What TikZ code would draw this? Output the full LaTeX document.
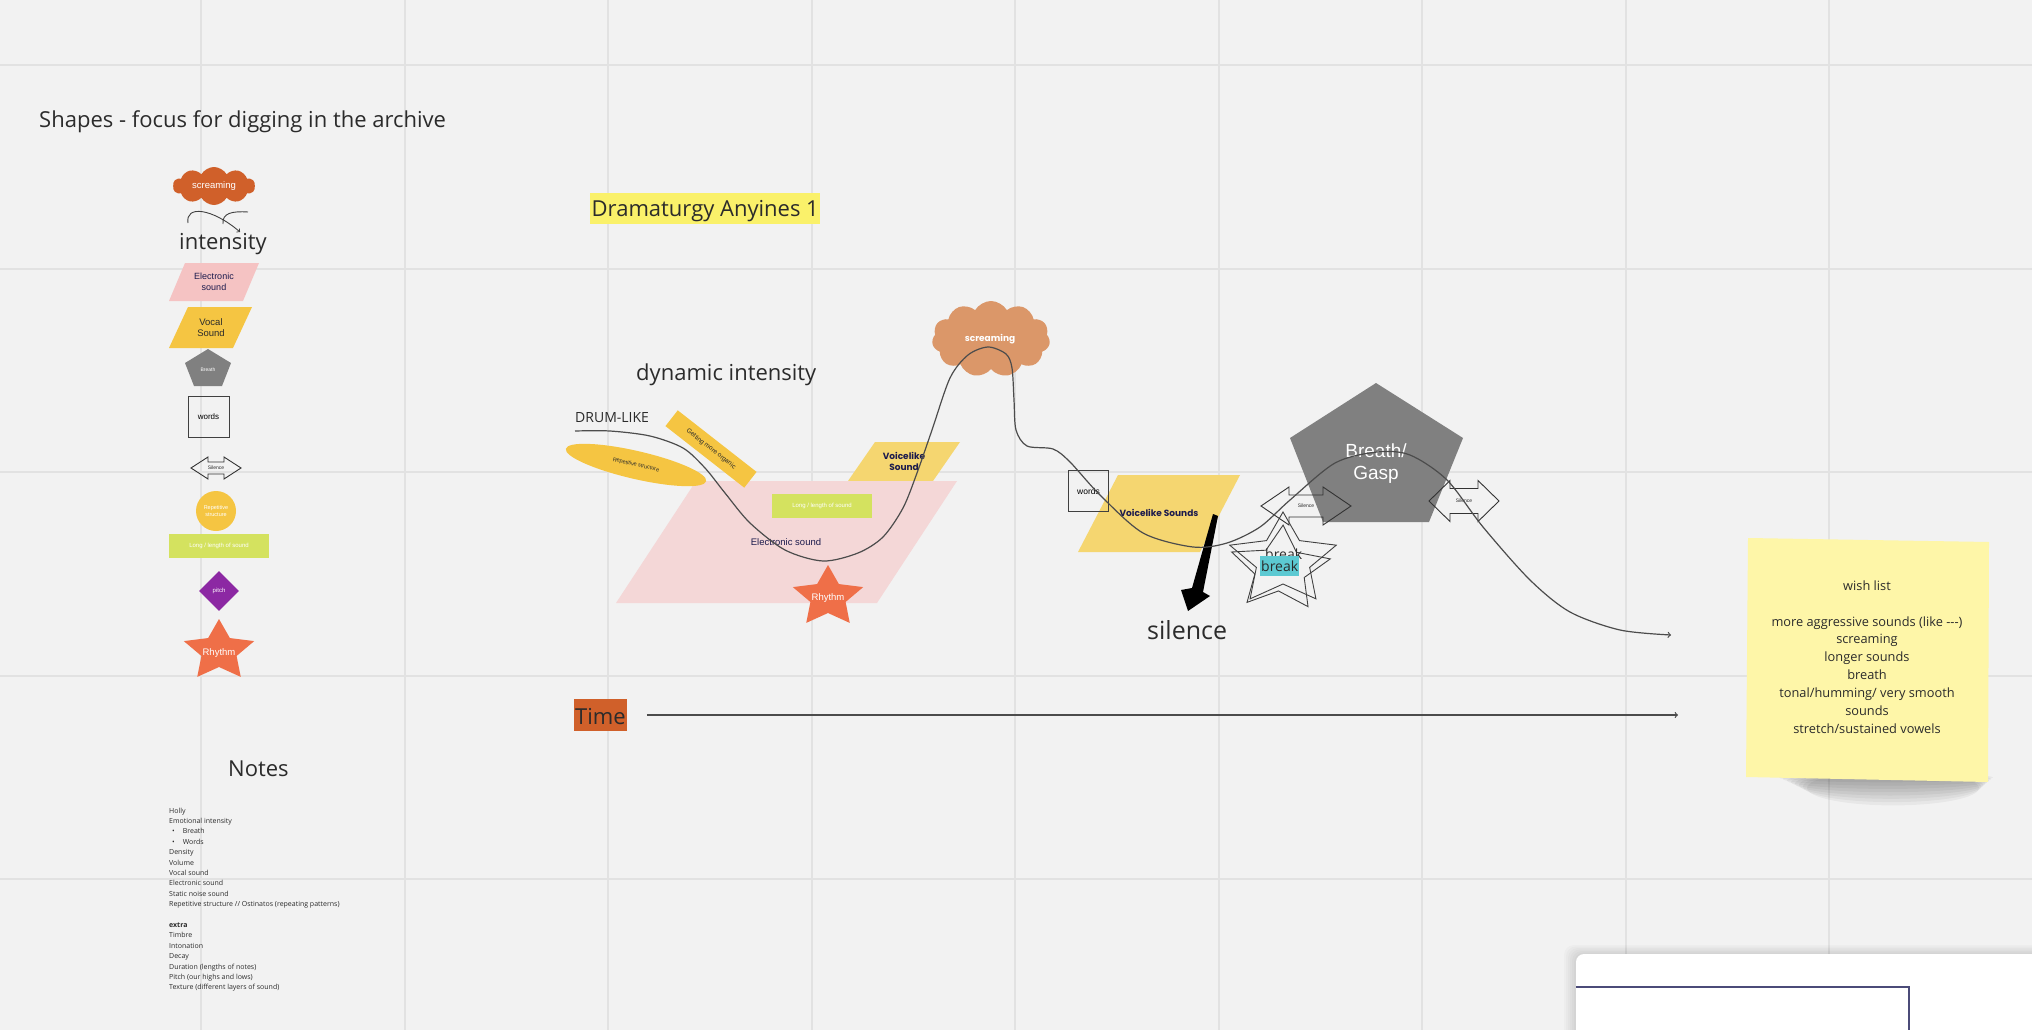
\documentclass[tikz,border=0pt]{standalone}
\usepackage{fontspec}
\setmainfont{Open Sans}
\newfontfamily\arialfont{Liberation Sans}
\newfontfamily\popfont{Poppins}
\usetikzlibrary{calc, shapes.geometric, shapes.symbols, arrows, positioning, fit}

\definecolor{boardbg}{HTML}{F2F2F2}
\definecolor{gridline}{HTML}{E2E2E2}
\definecolor{burnt}{HTML}{D0602A}
\definecolor{clay}{HTML}{DB9769}
\definecolor{blush}{HTML}{F5C3C3}
\definecolor{palepink}{HTML}{F4D7D7}
\definecolor{mustard}{HTML}{F5C542}
\definecolor{butter}{HTML}{F5D670}
\definecolor{lime}{HTML}{D4E25F}
\definecolor{plum}{HTML}{8C28A3}
\definecolor{coral}{HTML}{EF6F48}
\definecolor{slate}{HTML}{808080}
\definecolor{aqua}{HTML}{5CC9D2}
\definecolor{lemon}{HTML}{FAF16A}
\definecolor{sticky}{HTML}{FEF6A8}
\definecolor{navy}{HTML}{1C1B4D}
\definecolor{ink}{HTML}{2B2B2B}
\definecolor{frame}{HTML}{4B4B78}

\newcommand{\fsz}[2]{\fontsize{#1}{#2}\selectfont}
% cx, cy, half length, head length, shaft half, head half, text, name
\newcommand{\dblarrow}[8]{%
    \draw[black!80, line width=0.9] ({#1-#3},#2) -- ({#1-#3+#4},{#2-#6}) -- ({#1-#3+#4},{#2-#5})
        -- ({#1+#3-#4},{#2-#5}) -- ({#1+#3-#4},{#2-#6}) -- ({#1+#3},#2) -- ({#1+#3-#4},{#2+#6})
        -- ({#1+#3-#4},{#2+#5}) -- ({#1-#3+#4},{#2+#5}) -- ({#1-#3+#4},{#2+#6}) -- cycle;
    \node[tinytext] (#8) at (#1,#2) {#7};}
% cx, cy, x radius, y radius, rotation, style
\newcommand{\starat}[6]{%
    \path[#6, shift={(#1,#2)}, rotate=#5, xscale=#3, yscale=#4]
        (-90:1) -- (-54:0.5) -- (-18:1) -- (18:0.5) -- (54:1) -- (90:0.5)
        -- (126:1) -- (162:0.5) -- (198:1) -- (234:0.5) -- cycle;}

\begin{document}
\begin{tikzpicture}[x=1pt, y=-1pt,
        bigtext/.style={font=\fsz{22}{26}, text=ink, inner sep=0, anchor=base west},
        tinytext/.style={font=\arialfont\fsz{5}{6}, text=ink, inner sep=0},
        shapetext/.style={font=\arialfont\fsz{9.5}{11}, text=ink, inner sep=0, align=center},
        boldtext/.style={font=\popfont\bfseries\fsz{9}{11}, text=navy, inner sep=0, align=center},
        outline/.style={draw=black!75, line width=0.9},
        flow/.style={draw=black!70, line width=1.2}
    ]
    \useasboundingbox (0,0) rectangle (2032,1030);
    % board
    \fill[boardbg] (0,0) rectangle (2032,1030);
    \foreach \gx in {0,...,8}
        \draw[gridline, line width=2] ({201+203.5*\gx},0) -- ++(0,1030);
    \foreach \gy in {0,...,4}
        \draw[gridline, line width=2] (0,{65+203.5*\gy}) -- ++(2032,0);

    % legend of shapes
    \node[bigtext] (shapesHead) at (39,128) {Shapes - focus for digging in the archive};
    \node[cloud, cloud puffs=10, cloud puff arc=120, fill=burnt, minimum width=82, minimum height=38, inner sep=0] (cloudL) at (214,186) {};
    \node[shapetext, text=white] (cloudLtext) at (cloudL.center) {screaming};
    \coordinate (hookA) at (188,223);
    \coordinate (hookB) at (240,232);
    \coordinate (hookC) at (248,212);
    \coordinate (hookD) at (223,224);
    \draw[->, black!75, line width=0.9] (hookA) .. controls (185,205) and (212,208) .. (hookB);
    \draw[black!75, line width=0.9] (hookC) .. controls (232,211) and (222,213) .. (hookD);
    \node[bigtext] (intensity) at (179,249) {intensity};
    \fill[blush] (169,301) -- (185,263) -- (259,263) -- (243,301) -- cycle;
    \node[shapetext, text=navy, font=\arialfont\fsz{9}{10.5}] (elecL) at (214,282) {Electronic\\sound};
    \fill[mustard] (169,348) -- (188,307) -- (252,307) -- (233,348) -- cycle;
    \node[shapetext] (vocalL) at (211,327.5) {Vocal\\Sound};
    \fill[slate] (208,349) -- (231,363) -- (222,386) -- (194,386) -- (185,363) -- cycle;
    \node[tinytext, text=white] (breathL) at (208,370) {Breath};
    \node[outline, minimum size=41, inner sep=0, font=\arialfont\fsz{8}{9}] (wordsL) at (208.5,416.5) {words};
    \dblarrow{216}{468}{25}{17}{6}{11}{Silence}{silL}
    \node[circle, fill=mustard, minimum size=40, inner sep=0, text=white, font=\arialfont\fsz{5.5}{6.5}, align=center] (repL) at (216,511) {Repetitive\\structure};
    \node[fill=lime, minimum width=100, minimum height=24, inner sep=0, text=white, font=\arialfont\fsz{6}{7}] (longL) at (219,546) {Long / length of sound};
    \node[diamond, fill=plum, minimum size=40, inner sep=0, text=white, font=\arialfont\fsz{6}{7}] (pitchL) at (219,591) {pitch};
    \starat{219}{651}{37}{32}{0}{fill=coral}
    \node[shapetext, text=white] (rhythmL) at (219,653) {Rhythm};

    % notes
    \node[bigtext] (notesHead) at (228,776) {Notes};
    \node[anchor=north west, inner sep=0, align=left, font=\fsz{7}{10.4}, text=ink] (notesList) at (169,807.5) {Holly\\
        Emotional intensity\\
        \hspace*{3pt}\textbullet\hspace{8pt}Breath\\
        \hspace*{3pt}\textbullet\hspace{8pt}Words\\
        Density\\
        Volume\\
        Vocal sound\\
        Electronic sound\\
        Static noise sound\\
        Repetitive structure // Ostinatos (repeating patterns)\\[10.4pt]
        \textbf{extra}\\
        Timbre\\
        Intonation\\
        Decay\\
        Duration (lengths of notes)\\
        Pitch (our highs and lows)\\
        Texture (different layers of sound)};

    % dramaturgy
    \node[bigtext, fill=lemon, text height=23, text depth=8, inner xsep=1.5] (drama) at (590,216) {Dramaturgy Anyines 1};
    \node[bigtext] (dynamic) at (636,380) {dynamic intensity};
    \node[bigtext, font=\fsz{14}{16}] (drum) at (575,422) {DRUM-LIKE};
    \fill[butter] (848,481) -- (875,442) -- (960,442) -- (933,481) -- cycle;
    \node[boldtext] (voiceA) at (904,461) {Voicelike\\Sound};
    \fill[palepink] (616,603) -- (696,481) -- (957,481) -- (877,603) -- cycle;
    \node[fill=lime, minimum width=100, minimum height=24, inner sep=0, text=white, font=\arialfont\fsz{6}{7}] (longM) at (822,506) {Long / length of sound};
    \node[shapetext, text=navy] (elecM) at (786,542) {Electronic sound};
    \node[ellipse, fill=mustard, minimum width=144, minimum height=28, rotate=-13, inner sep=0, font=\arialfont\fsz{5.5}{6}, text=ink] (repM) at (636,465) {Repetitive structure};
    \node[rectangle, fill=mustard, minimum width=100, minimum height=20, rotate=-38, inner sep=0, font=\arialfont\fsz{6.5}{7}, text=ink] (organic) at (711,449) {Getting more organic};
    \starat{828}{597}{37}{32}{0}{fill=coral}
    \node[shapetext, text=white] (rhythmM) at (828,598) {Rhythm};
    \node[cloud, cloud puffs=11, cloud puff arc=120, fill=clay, minimum width=118, minimum height=76, inner sep=0] (cloudM) at (991,339) {};
    \node[boldtext, text=white] (cloudMtext) at (990,339) {screaming};
    \fill[butter] (1078,552) -- (1118,475) -- (1240,475) -- (1200,552) -- cycle;
    \node[boldtext] (voiceB) at (1159,513) {Voicelike Sounds};
    \node[outline, minimum size=40.5, inner sep=0, font=\arialfont\fsz{8.5}{9}] (wordsM) at (1088.5,491) {words};
    \fill[black] (1213,514) -- (1192,588) -- (1181,590) -- (1188,611) -- (1210,596) -- (1203,592) -- (1218,516) -- cycle;
    \node[bigtext, font=\fsz{25}{28}] (silence) at (1147,639) {silence};
    \fill[slate] (1376,383) -- (1463,438) -- (1429,522) -- (1323,522) -- (1290,438) -- cycle;
    \node[font=\arialfont\fsz{19}{22}, text=white, align=center, inner sep=0] (gasp) at (1376,464) {Breath/\\Gasp};
    \starat{1283}{560}{56}{48}{0}{outline}
    \starat{1280}{569}{52}{44}{-4}{outline}
    \node[bigtext, font=\fsz{14}{16}] (breakA) at (1265,559) {break};
    \node[bigtext, font=\fsz{14}{16}, fill=aqua, text height=15, text depth=5, inner xsep=1] (breakB) at (1260,571) {break};
    \dblarrow{1306}{506}{45}{28}{11}{19}{Silence}{silA}
    \dblarrow{1464}{501}{35}{21}{12.5}{20.5}{Silence}{silB}

    % intensity line
    \coordinate (drumStart) at (575,431);
    \coordinate (wishEnd) at (1671,635);
    \draw[flow, ->] plot[smooth, tension=0.5] coordinates {(drumStart) (610,431) (650,436) (683,448) (705,468)
        (725,493) (750,523) (785,550) (823,561) (858,553) (883,537) (903,508) (917,473) (932,430) (950,378)
        (968,355) (988,347) (1006,354) (1012,368) (1014,400) (1016,430) (1027,446) (1053,449) (1070,462)
        (1100,495) (1143,533) (1193,547) (1227,543) (1260,527) (1290,500) (1335,463) (1377,452) (1410,455)
        (1447,480) (1483,527) (1530,580) (1570,612) (1620,630) (wishEnd)};

    % time axis
    \node[bigtext, fill=burnt, text height=25, text depth=7, inner xsep=1] (time) at (574,724) {Time};
    \coordinate (timeEnd) at (1678,715);
    \draw[flow, ->] ([xshift=20pt]time.east) -- (timeEnd);

    % wish list
    \foreach \s in {1,...,8}
        \fill[black, opacity=0.045] ({1885+\s},{776+1.5*\s}) ellipse [x radius={110-3*\s}, y radius={3+1.8*\s}];
    \fill[sticky] (1748,538) -- (1989,542) -- (1988,782) -- (1746,777) -- cycle;
    \node[font=\fsz{12.8}{17.9}, text=ink, align=center, inner sep=0] (wish) at (1867,657) {wish list\\[17.9pt]
        more aggressive sounds (like {-}{-}{-})\\
        screaming\\
        longer sounds\\
        breath\\
        tonal/humming/ very smooth\\
        sounds\\
        stretch/sustained vowels};

    % panel corner
    \foreach \s in {1,...,6}
        \fill[black, opacity=0.02, rounded corners=10] ({1576-2*\s},{954-1.5*\s}) rectangle (2045,1045);
    \fill[white, rounded corners=8] (1576,954) rectangle (2045,1045);
    \draw[frame, line width=2] (1576,987) -- (1909,987) -- (1909,1035);
\end{tikzpicture}
\end{document}
